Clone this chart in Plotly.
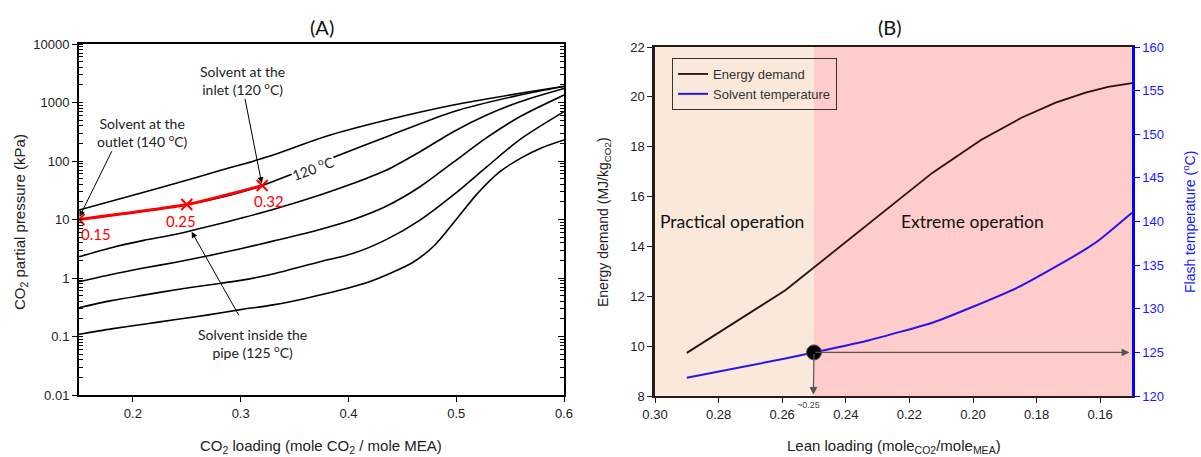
import plotly.graph_objects as go

# ---------------- Panel A data ----------------
c1_load = [0.15, 0.20, 0.24, 0.28, 0.3257, 0.378, 0.4355, 0.4973, 0.5592, 0.6]
c1_p = [14.5, 26, 41.6, 68, 119, 260, 501, 906, 1435, 1900]

c2_load = [0.15, 0.20, 0.25, 0.29, 0.32, 0.35, 0.3875, 0.4355, 0.4973, 0.5592, 0.6]
c2_p = [10, 13, 18, 26, 38, 62, 118, 260, 697, 1343, 1880]

c345_load = [0.15, 0.18, 0.21, 0.24, 0.27, 0.30, 0.33, 0.3736, 0.4046, 0.4355, 0.4664, 0.4974, 0.5283, 0.5593, 0.6]
c3_p = [2.31, 3.3, 4.4, 5.6, 7.6, 10.5, 14.8, 26.2, 41.5, 70.1, 144, 317, 611, 1033, 1740]
c4_p = [0.865, 1.15, 1.48, 1.86, 2.4, 3.16, 4.27, 6.76, 10.0, 17.0, 36.3, 95.5, 251, 575, 1343]
c5_p = [0.31, 0.41, 0.51, 0.63, 0.76, 0.91, 1.17, 1.9, 2.64, 4.57, 9.77, 26.3, 79.4, 234, 697]

c6_load = [0.15, 0.18, 0.21, 0.24, 0.27, 0.30, 0.33, 0.36, 0.39, 0.42, 0.44, 0.46, 0.48, 0.50,
           0.52, 0.54, 0.56, 0.58, 0.6]
c6_p = [0.109, 0.135, 0.162, 0.195, 0.234, 0.288, 0.347, 0.447, 0.603, 0.871, 1.23, 1.862, 3.63, 10.0,
        28.2, 64.6, 112, 170, 229]

path_load = [0.15, 0.25, 0.32]
path_p = [10, 18, 38]
path_labels = ["0.15", "0.25", "0.32"]

# ---------------- Panel B data ----------------
energy_load = [0.29, 0.259, 0.2128, 0.1975, 0.1846, 0.174, 0.1646, 0.1575, 0.15]
energy_val = [9.73, 12.24, 16.95, 18.27, 19.17, 19.77, 20.17, 20.4, 20.55]

temp_load = [0.29, 0.259, 0.25, 0.2326, 0.2128, 0.2002, 0.1856, 0.1741, 0.1647, 0.1602, 0.15]
temp_val = [122.1, 124.3, 125.0, 126.4, 128.4, 130.2, 132.5, 134.8, 136.8, 137.9, 141.0]

flash_load = 0.25
flash_temp = 125.0
flash_energy_axis = 9.75

xticks_b = [0.30, 0.28, 0.26, 0.24, 0.22, 0.20, 0.18, 0.16]

W, H = 1201, 457
TICKFONT = dict(family="Liberation Sans, Arial", size=13, color="#222")
CAL = "Lato, Open Sans, sans-serif"

fig = go.Figure()

for xs, ys in [(c1_load, c1_p), (c2_load, c2_p), (c345_load, c3_p), (c345_load, c4_p),
               (c345_load, c5_p), (c6_load, c6_p)]:
    fig.add_trace(go.Scatter(x=xs, y=ys, mode="lines", line=dict(color="black", width=1.6, shape="spline", smoothing=0.8),
                             xaxis="x", yaxis="y", showlegend=False, hoverinfo="skip"))

fig.add_trace(go.Scatter(x=path_load, y=path_p, mode="lines+markers",
                         line=dict(color="#ff0000", width=3, shape="spline", smoothing=0.5),
                         marker=dict(symbol="x-thin", size=11, line=dict(width=2, color="#ff0000"), color="#ff0000"),
                         xaxis="x", yaxis="y", showlegend=False, hoverinfo="skip"))

# invisible trace for the mirrored right axis of panel A
fig.add_trace(go.Scatter(x=[0.3], y=[1], mode="markers", marker=dict(opacity=0), xaxis="x", yaxis="y2",
                         showlegend=False, hoverinfo="skip"))

# Panel B
fig.add_trace(go.Scatter(x=energy_load, y=energy_val, mode="lines", name="Energy demand",
                         line=dict(color="#2b0d0d", width=1.8), xaxis="x2", yaxis="y3"))
fig.add_trace(go.Scatter(x=temp_load, y=temp_val, mode="lines", name="Solvent temperature",
                         line=dict(color="#2a14e6", width=2, shape="spline", smoothing=0.4), xaxis="x2", yaxis="y4"))
fig.add_trace(go.Scatter(x=[flash_load], y=[flash_temp], mode="markers",
                         marker=dict(color="black", size=15, line=dict(color="#555", width=1)),
                         xaxis="x2", yaxis="y4", showlegend=False, hoverinfo="skip"))

shapes = [
    dict(type="rect", xref="x2", yref="y3 domain", x0=0.30, x1=0.25, y0=0, y1=1,
         fillcolor="#FAE9DA", line=dict(width=0), layer="below"),
    dict(type="rect", xref="x2", yref="y3 domain", x0=0.25, x1=0.15, y0=0, y1=1,
         fillcolor="#FFCCCC", line=dict(width=0), layer="below"),
]

def px(xp):
    return xp / W

def py(yp):
    return 1 - yp / H

ann = []

def txt(x, y, text, font, **kw):
    d = dict(x=px(x), y=py(y), xref="paper", yref="paper", text=text, showarrow=False, font=font,
             xanchor="center", yanchor="middle")
    d.update(kw)
    ann.append(d)

# titles
txt(322, 27, "(A)", dict(family=CAL, size=20, color="#111"))
txt(890, 27, "(B)", dict(family=CAL, size=20, color="#111"))
# axis titles A
txt(321, 446, "CO<sub>2</sub> loading (mole CO<sub>2</sub> / mole MEA)",
    dict(family="Liberation Sans, Arial", size=15, color="#222"))
txt(20, 222, "CO<sub>2</sub> partial pressure (kPa)",
    dict(family="Liberation Sans, Arial", size=15, color="#222"), textangle=-90)
# axis titles B
txt(894, 446, "Lean loading (mole<sub>CO2</sub>/mole<sub>MEA</sub>)",
    dict(family="Liberation Sans, Arial", size=15, color="#222"))
txt(604, 222, "Energy demand (MJ/kg<sub>CO2</sub>)",
    dict(family="Liberation Sans, Arial", size=14, color="#222"), textangle=-90)
txt(1189, 222, "Flash temperature (<sup>o</sup>C)",
    dict(family="Liberation Sans, Arial", size=14, color="#1a1aff"), textangle=-90)

# panel A annotations
AF = dict(family=CAL, size=14, color="#222")
txt(142, 132, "Solvent at the<br>outlet (140 <sup>o</sup>C)", AF)
ann.append(dict(x=0.1505, y=1.048, xref="x", yref="y", text="", showarrow=True, arrowhead=2, arrowsize=1.2,
                arrowwidth=1, arrowcolor="black", ax=33, ay=-67))
txt(242, 80, "Solvent at the<br>inlet (120 <sup>o</sup>C)", AF)
ann.append(dict(x=0.3195, y=1.619, xref="x", yref="y", text="", showarrow=True, arrowhead=2, arrowsize=1.2,
                arrowwidth=1, arrowcolor="black", ax=-17, ay=-86))
txt(252, 343, "Solvent inside the<br>pipe (125 <sup>o</sup>C)", AF)
ann.append(dict(x=0.2545, y=0.791, xref="x", yref="y", text="", showarrow=True, arrowhead=2, arrowsize=1.2,
                arrowwidth=1, arrowcolor="black", ax=48, ay=85))
txt(313, 167, "120 <sup>o</sup>C", AF, textangle=-20, bgcolor="white", borderpad=0)
# red labels
for (lx, ly), t in zip([(96, 234), (181, 221), (269, 201)], path_labels):
    txt(lx, ly, t, dict(family=CAL, size=15, color="#ff0000"))

# panel B annotations
txt(732, 221, "Practical operation", dict(family=CAL, size=17.5, color="#111"))
txt(972, 221, "Extreme operation", dict(family=CAL, size=17.5, color="#111"))
ann.append(dict(x=0.2502, y=8.05, xref="x2", yref="y3", ax=flash_load, ay=flash_energy_axis, axref="x2", ayref="y3",
                text="", showarrow=True, arrowhead=2, arrowsize=1.3, arrowwidth=1.2, arrowcolor="#555"))
ann.append(dict(x=0.1508, y=flash_energy_axis, xref="x2", yref="y3", ax=flash_load, ay=flash_energy_axis,
                axref="x2", ayref="y3", text="", showarrow=True, arrowhead=2, arrowsize=1.3, arrowwidth=1.2,
                arrowcolor="#555"))
txt(808, 405, "~0.25", dict(family="Liberation Sans, Arial", size=9, color="#444"))

fig.update_layout(
    width=W, height=H, margin=dict(l=0, r=0, t=0, b=0, autoexpand=False),
    paper_bgcolor="white", plot_bgcolor="white",
    shapes=shapes, annotations=ann,
    legend=dict(x=px(672), y=py(58), xanchor="left", yanchor="top", bordercolor="#333", borderwidth=1,
                bgcolor="rgba(0,0,0,0)", font=dict(family="Liberation Sans, Arial", size=13, color="#333"),
                tracegroupgap=0),
    xaxis=dict(domain=[px(79), px(564)], range=[0.15, 0.6], tickvals=[0.2, 0.3, 0.4, 0.5, 0.6],
               ticktext=["0.2", "0.3", "0.4", "0.5", "0.6"], ticks="outside", ticklen=5, tickcolor="black",
               showline=True, linecolor="black", linewidth=2, mirror=True, showgrid=False, zeroline=False,
               tickfont=TICKFONT, anchor="y", automargin=False),
    yaxis=dict(domain=[py(395), py(44)], type="log", range=[-2, 4],
               tickvals=[0.01, 0.1, 1, 10, 100, 1000, 10000],
               ticktext=["0.01", "0.1", "1", "10", "100", "1000", "10000"],
               ticks="outside", ticklen=5, tickcolor="black",
               minor=dict(ticks="inside", ticklen=4, tickcolor="black", dtick="D1", showgrid=False),
               showline=True, linecolor="black", linewidth=2, mirror=True, showgrid=False, zeroline=False,
               tickfont=TICKFONT, anchor="x", automargin=False),
    yaxis2=dict(overlaying="y", side="right", type="log", range=[-2, 4], anchor="x",
                tickvals=[0.01, 0.1, 1, 10, 100, 1000, 10000], showticklabels=False,
                ticks="inside", ticklen=6, tickcolor="black",
                minor=dict(ticks="inside", ticklen=4, tickcolor="black", dtick="D1", showgrid=False),
                showline=False, showgrid=False, zeroline=False, automargin=False),
    xaxis2=dict(domain=[px(655), px(1132)], range=[0.30, 0.15], tickvals=xticks_b,
                ticktext=[f"{v:.2f}" for v in xticks_b], ticks="outside", ticklen=5, tickcolor="#2b1a1a",
                showline=True, linecolor="#2b1a1a", linewidth=2, mirror=True, showgrid=False, zeroline=False,
                tickfont=TICKFONT, anchor="y3", automargin=False),
    yaxis3=dict(domain=[py(396), py(47)], range=[8, 22], dtick=2, ticks="outside", ticklen=5,
                tickcolor="#2b1a1a", showline=True, linecolor="#2b1a1a", linewidth=2.5, showgrid=False,
                zeroline=False, tickfont=TICKFONT, anchor="x2", automargin=False),
    yaxis4=dict(overlaying="y3", side="right", range=[120, 160], dtick=5, ticks="outside", ticklen=5,
                tickcolor="#0000ff", showline=True, linecolor="#0000ff", linewidth=2.5, showgrid=False,
                zeroline=False, tickfont=dict(family="Liberation Sans, Arial", size=13, color="#1a1aff"),
                anchor="x2", automargin=False),
)

fig.write_html("out.html")
